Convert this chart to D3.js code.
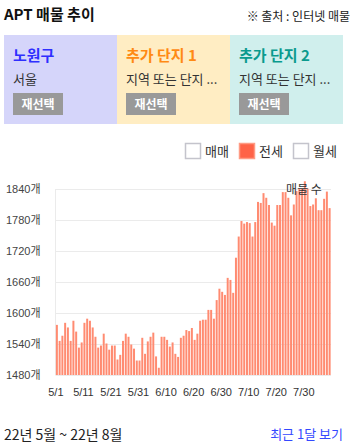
<!DOCTYPE html>
<html>
<head>
<meta charset="utf-8">
<script src="https://cdn.jsdelivr.net/npm/d3@7"></script>
<style>
  body { margin: 0; background: #fff; font-family: "Noto Sans CJK KR", "Noto Sans", sans-serif; }
  svg text { font-family: "Noto Sans CJK KR", "Noto Sans", sans-serif; }
</style>
</head>
<body>
<div id="chart"></div>
<script>
// panels on top
const panelTitles = ['노원구', '추가 단지 1', '추가 단지 2'];
const panelSubs = ['서울', '지역 또는 단지 ...', '지역 또는 단지 ...'];
const panelColors = ['#d5d5fa', '#ffedc3', '#d0efed'];
const panelTitleColors = ['#2f2fff', '#ff8a14', '#0a9a8e'];

// legend
const legendLabels = ['매매', '전세', '월세'];
const legendActive = [false, true, false];

// chart data: 매물 수 per day, from 5/1
const startDate = new Date(2022, 4, 1);
const listings = [
  1577, 1546, 1556, 1581, 1572, 1546, 1585, 1564, 1533, 1543,
  1581, 1589, 1585, 1572, 1554, 1533, 1537, 1560, 1541, 1529,
  1537, 1537, 1510, 1519, 1546, 1560, 1554, 1539, 1531, 1508,
  1508, 1552, 1521, 1545, 1554, 1562, 1516, 1494, 1554, 1554,
  1548, 1535, 1543, 1521, 1515, 1552, 1556, 1567, 1565, 1571,
  1548, 1560, 1585, 1587, 1587, 1606, 1606, 1589, 1625, 1647,
  1641, 1635, 1668, 1664, 1639, 1707, 1748, 1778, 1773, 1776,
  1774, 1748, 1776, 1815, 1813, 1832, 1823, 1809, 1775, 1769,
  1809, 1809, 1834, 1834, 1823, 1789, 1810, 1836, 1840, 1840,
  1855, 1841, 1807, 1810, 1822, 1799, 1799, 1821, 1835, 1803
];
const yTicks = [1480, 1540, 1600, 1660, 1720, 1780, 1840];
const xTickLabels = ['5/1', '5/11', '5/21', '5/31', '6/10', '6/20', '6/30', '7/10', '7/20', '7/30'];

const fmt = d3.timeFormat('%-m/%-d');
const dates = listings.map((v, i) => fmt(d3.timeDay.offset(startDate, i)));
const data = dates.map((d, i) => ({date: d, value: listings[i]}));

const width = 353, height = 447;
const svg = d3.select('#chart').append('svg')
  .attr('width', width)
  .attr('height', height);

// header
svg.append('text')
  .attr('x', 4).attr('y', 20)
  .style('font-size', '15px').style('font-weight', 'bold').style('fill', '#111')
  .text('APT 매물 추이');

svg.append('text')
  .attr('x', 350).attr('y', 21)
  .attr('text-anchor', 'end')
  .style('font-size', '12px').style('fill', '#222')
  .text('※ 출처 : 인터넷 매물');

// panels
const panelW = 113;
const panels = svg.selectAll('g.panel')
  .data(panelTitles)
  .join('g')
  .attr('class', 'panel')
  .attr('transform', (d, i) => `translate(${4 + i * panelW},35)`);

panels.append('rect')
  .attr('width', panelW).attr('height', 89)
  .style('fill', (d, i) => panelColors[i]);

panels.append('text')
  .attr('x', 9).attr('y', 26)
  .style('font-size', '15px').style('font-weight', 'bold')
  .style('fill', (d, i) => panelTitleColors[i])
  .text(d => d);

panels.append('text')
  .attr('x', 9).attr('y', 49)
  .style('font-size', '13px').style('fill', '#333')
  .text((d, i) => panelSubs[i]);

panels.append('rect')
  .attr('x', 9).attr('y', 58)
  .attr('width', 50).attr('height', 22)
  .style('fill', '#999');

panels.append('text')
  .attr('x', 34).attr('y', 74)
  .attr('text-anchor', 'middle')
  .style('font-size', '12px').style('font-weight', 'bold').style('fill', '#fff')
  .text('재선택');

// legend
const legendX = [185, 239, 293];
const legend = svg.selectAll('g.legend')
  .data(legendLabels)
  .join('g')
  .attr('class', 'legend')
  .attr('transform', (d, i) => `translate(${legendX[i]},143)`);

legend.append('rect')
  .attr('x', 0.5).attr('y', 0.5)
  .attr('width', 15).attr('height', 15)
  .style('fill', (d, i) => legendActive[i] ? '#ff6347' : '#fff')
  .style('stroke', (d, i) => legendActive[i] ? '#ff9b84' : '#c4c4cc')
  .style('stroke-width', 1.5);

legend.append('text')
  .attr('x', 20).attr('y', 13)
  .style('font-size', '13px').style('fill', '#333')
  .text(d => d);

// bar chart
const dims = {left: 55.5, right: 331, top: 189, bottom: 375};

const xScale = d3.scaleBand()
  .domain(dates)
  .range([dims.left, dims.right])
  .paddingInner(0.28)
  .paddingOuter(0.14);

const yScale = d3.scaleLinear()
  .domain([1480, 1840])
  .range([dims.bottom, dims.top]);

// grid
const yAxis = svg.append('g')
  .attr('transform', `translate(${dims.left},0)`)
  .call(d3.axisLeft(yScale).tickValues(yTicks)
    .tickSize(-(dims.right - dims.left)).tickPadding(15)
    .tickFormat(d => d + '개'));
yAxis.select('.domain').remove();
yAxis.selectAll('.tick line').style('stroke', '#ebebeb');
yAxis.selectAll('.tick text')
  .style('font-size', '11px').style('fill', '#444')
  .style('font-family', '"Liberation Sans", Arial, "Noto Sans CJK KR", sans-serif');

svg.append('line')
  .attr('x1', dims.left).attr('x2', dims.left)
  .attr('y1', dims.top).attr('y2', dims.bottom)
  .style('stroke', '#ebebeb');

svg.append('g')
  .selectAll('rect')
  .data(data)
  .join('rect')
  .attr('x', d => xScale(d.date))
  .attr('y', d => yScale(d.value))
  .attr('width', xScale.bandwidth())
  .attr('height', d => yScale(1480) - yScale(d.value))
  .style('fill', '#ff8b71');

const xAxis = svg.append('g')
  .attr('transform', `translate(0,${dims.bottom})`)
  .call(d3.axisBottom(xScale).tickValues(xTickLabels).tickSize(0).tickPadding(13));
xAxis.select('.domain').remove();
xAxis.selectAll('.tick text')
  .attr('dx', -1)
  .style('font-size', '11px').style('fill', '#333')
  .style('font-family', '"Liberation Sans", Arial, sans-serif');

svg.append('text')
  .attr('x', 304).attr('y', 194)
  .attr('text-anchor', 'middle')
  .style('font-size', '12px').style('fill', '#333')
  .text('매물 수');

// footer
svg.append('text')
  .attr('x', 4).attr('y', 440)
  .style('font-size', '14px').style('fill', '#222')
  .text('22년 5월 ~ 22년 8월');

svg.append('text')
  .attr('x', 343).attr('y', 439)
  .attr('text-anchor', 'end')
  .style('font-size', '13px').style('fill', '#3448ff')
  .text('최근 1달 보기');
</script>
</body>
</html>
